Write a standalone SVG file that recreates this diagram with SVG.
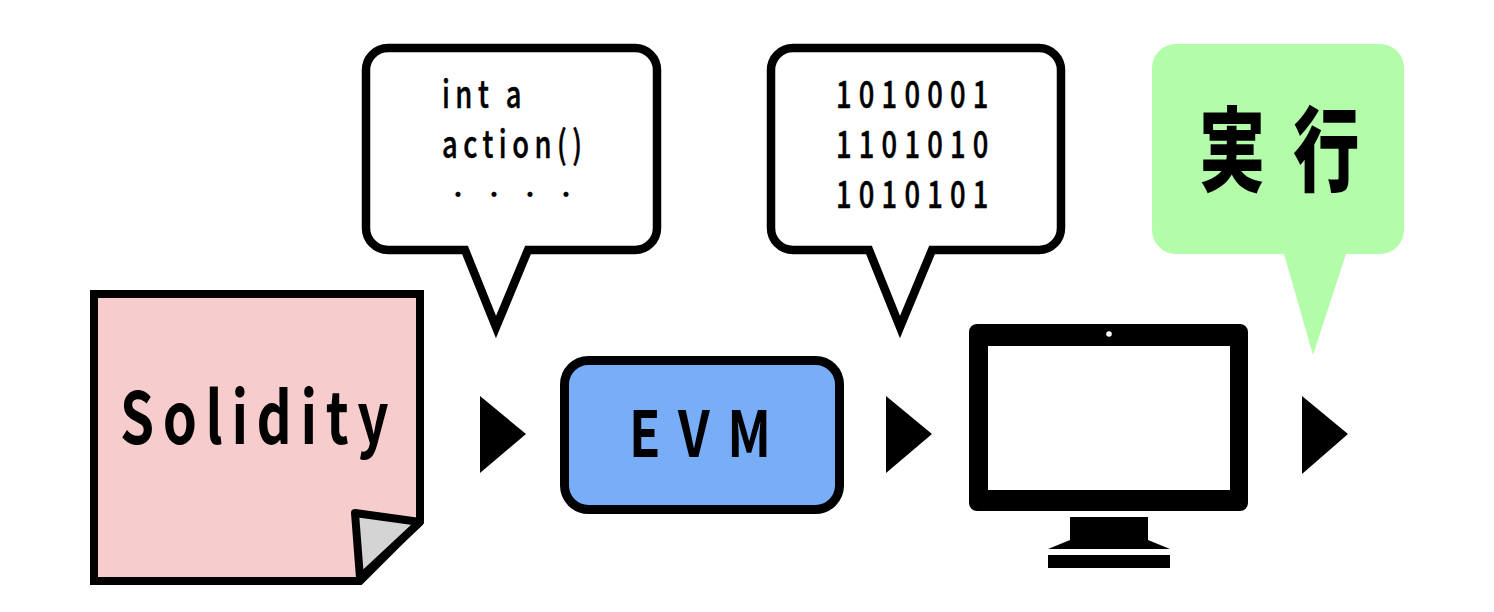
<svg xmlns="http://www.w3.org/2000/svg" width="1494" height="612" viewBox="0 0 1494 612">
<style>
.t{font-family:"Noto Sans CJK JP","Noto Sans",sans-serif;font-weight:700;fill:#000}
.code{font-size:38px;letter-spacing:7.600px;font-weight:500;stroke:#000;stroke-width:.5px}
.bin{letter-spacing:10px}
.big{font-size:72px;letter-spacing:11.300px}
.bub{fill:#fff;stroke:#000;stroke-width:8.500;stroke-linejoin:miter}
.arrow{fill:#000}
</style>
<rect width="1494" height="612" fill="#fff"/>
<g id="connectors">
<polygon class="arrow" points="480,396 526,434 480,473"/>
<polygon class="arrow" points="886,396 932,434 886,473"/>
<polygon class="arrow" points="1302,396 1348,434 1302,474"/>
</g>
<g id="solidity">
<path d="M94,294H420V521L360,581H94Z" fill="#f6cccc" stroke="#000" stroke-width="8"/>
<path d="M355,513L420,522L360,578Z" fill="#d4d4d4" stroke="#000" stroke-width="8" stroke-linejoin="round"/>
<text class="t big" transform="translate(120,444) scale(.76,1)">Solidity</text>
</g>
<g id="bubble-code">
<path class="bub" d="M388,48H635A22,22 0 0 1 657,70V228A22,22 0 0 1 635,250H528L496,327L465,250H388A22,22 0 0 1 366,228V70A22,22 0 0 1 388,48Z"/>
<text class="t code" transform="translate(442,108) scale(.72,1)">int a</text>
<text class="t code" transform="translate(442,158) scale(.72,1)">action()</text>
<text class="t" style="font-weight:900" font-size="24" x="458 494 530 566" y="197" text-anchor="middle">....</text>
</g>
<g id="evm">
<rect x="564.500" y="360.500" width="275" height="149" rx="24" fill="#77aef7" stroke="#000" stroke-width="9"/>
<text class="t" font-size="64" style="letter-spacing:22px" transform="translate(629,457) scale(.8,1)">EVM</text>
</g>
<g id="bubble-binary">
<path class="bub" d="M793,48H1039A22,22 0 0 1 1061,70V228A22,22 0 0 1 1039,250H932L900,327L869,250H793A22,22 0 0 1 771,228V70A22,22 0 0 1 793,48Z"/>
<text class="t code bin" transform="translate(836,108) scale(.72,1)">1010001</text>
<text class="t code bin" transform="translate(836,158) scale(.72,1)">1101010</text>
<text class="t code bin" transform="translate(836,208) scale(.72,1)">1010101</text>
</g>
<g id="monitor">
<path fill-rule="evenodd" d="M977,324H1240A8,8 0 0 1 1248,332V503A8,8 0 0 1 1240,511H977A8,8 0 0 1 969,503V332A8,8 0 0 1 977,324ZM988,346V490H1230V346Z"/>
<circle cx="1109" cy="334" r="2.800" fill="#fff"/>
<path d="M1070,517H1148V540L1170,549H1048L1070,540Z"/>
<rect x="1048" y="555" width="122" height="13"/>
</g>
<g id="run">
<path d="M1176,44H1380A24,24 0 0 1 1404,68V230A24,24 0 0 1 1380,254H1346L1313,355L1284,254H1176A24,24 0 0 1 1152,230V68A24,24 0 0 1 1176,44Z" fill="#b3fcaa"/>
<text class="t" transform="translate(1199,184) scale(.72,1)" font-size="92" style="font-weight:900;letter-spacing:39px">実行</text>
</g>
</svg>
